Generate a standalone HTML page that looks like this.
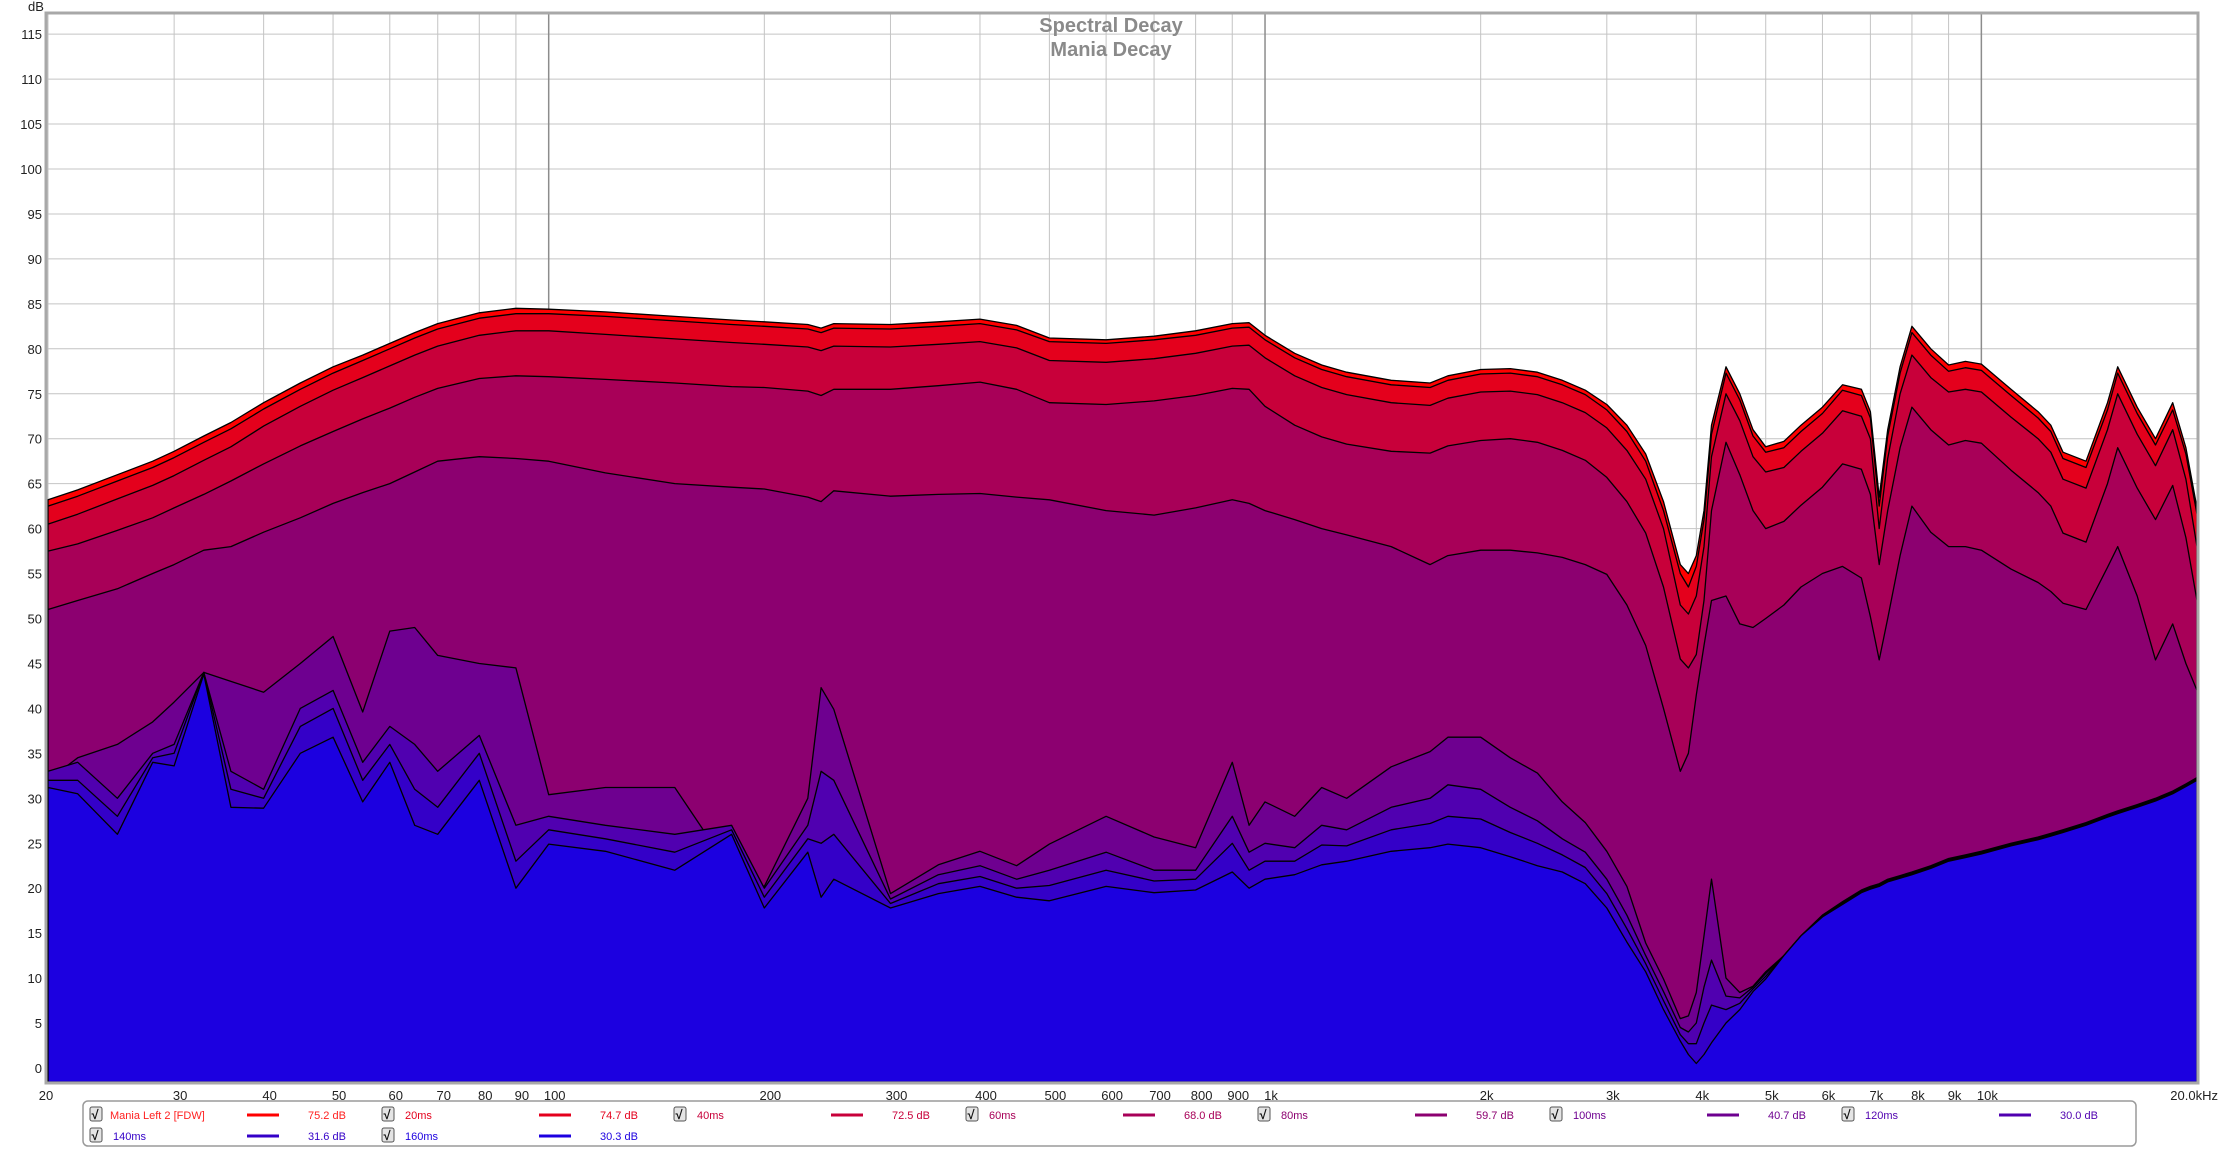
<!DOCTYPE html>
<html><head><meta charset="utf-8"><style>
html,body{margin:0;padding:0;background:#fff;width:2220px;height:1150px;overflow:hidden}
svg{display:block;font-family:"Liberation Sans",sans-serif}
</style></head><body>
<svg id="chart" width="2220" height="1150" viewBox="0 0 2220 1150" xmlns="http://www.w3.org/2000/svg">
<rect x="0" y="0" width="2220" height="1150" fill="#fff"/>
<g id="grid"></g>
<g id="series"></g>
<rect x="46" y="13" width="2152" height="1070" fill="none" stroke="#a8a8a8" stroke-width="3"/>
<text x="1111" y="32" text-anchor="middle" font-size="20" font-weight="bold" fill="#8a8a8a">Spectral Decay</text>
<text x="1111" y="56" text-anchor="middle" font-size="20" font-weight="bold" fill="#8a8a8a">Mania Decay</text>
<text x="36" y="11" text-anchor="middle" font-size="13" fill="#222">dB</text>
<g id="yticks"></g><g id="xticks"></g>
<g id="legend"></g>
</svg>
<script>
const freqs=[20,22,25,28,30,33,36,40,45,50,55,60,65,70,80,90,100,120,150,180,200,230,240,250,300,350,400,450,500,600,700,800,900,950,1000,1100,1200,1300,1500,1700,1800,2000,2200,2400,2600,2800,3000,3200,3400,3600,3800,3900,4000,4100,4200,4400,4600,4800,5000,5300,5600,6000,6400,6800,7000,7200,7400,7700,8000,8500,9000,9500,10000,11000,12000,12500,13000,14000,15000,15500,16500,17500,18500,19300,20000];
const s0ms=[63.2,64.3,66,67.5,68.6,70.3,71.8,74,76.2,78,79.3,80.6,81.8,82.8,84,84.5,84.4,84.1,83.6,83.2,83,82.7,82.3,82.8,82.7,83,83.3,82.6,81.2,81,81.4,82,82.8,82.9,81.5,79.5,78.2,77.4,76.5,76.2,77,77.7,77.8,77.4,76.5,75.4,73.8,71.5,68.3,63,56,55,57,62,71.5,78,75,71,69.1,69.7,71.5,73.5,76,75.5,73,63.5,71,78,82.5,80,78.2,78.6,78.3,75.5,73,71.5,68.5,67.5,74,78,73.5,70,74,69,62.3];
const s20ms=[62.5,63.6,65.3,66.8,67.9,69.6,71.1,73.3,75.5,77.3,78.7,80,81.2,82.2,83.4,83.9,83.9,83.6,83.1,82.7,82.5,82.2,81.8,82.3,82.2,82.5,82.8,82.1,80.8,80.6,81,81.5,82.3,82.4,81,79,77.7,76.9,76,75.7,76.5,77.2,77.3,76.9,76,74.9,73.2,70.8,67.5,62,55,53.5,55.8,61,70.5,77.3,74.3,70.3,68.5,69,70.8,72.8,75.4,74.8,72.3,62.5,70.3,77.3,81.8,79.3,77.5,77.9,77.6,74.8,72.3,70.8,67.8,66.8,73.2,77.3,72.8,69.3,73.2,68.3,61.6];
const s40ms=[60.5,61.6,63.3,64.8,65.9,67.6,69.1,71.4,73.6,75.4,76.8,78.1,79.3,80.3,81.5,82,82,81.6,81.1,80.7,80.5,80.2,79.8,80.3,80.2,80.5,80.8,80.1,78.7,78.5,78.9,79.5,80.3,80.4,79,77,75.7,74.9,74,73.7,74.5,75.2,75.3,74.9,74,72.9,71.2,68.7,65.5,60,51.5,50.5,52.5,58,68,75,72,68,66.3,66.8,68.6,70.6,73.1,72.5,70,60,67.8,75,79.3,76.8,75.2,75.5,75.2,72.4,70,68.5,65.5,64.5,71,75,70.5,67,71,65.5,58];
const s60ms=[57.5,58.3,59.8,61.2,62.3,63.8,65.3,67.2,69.2,70.8,72.2,73.4,74.6,75.6,76.7,77,76.9,76.6,76.2,75.8,75.7,75.3,74.8,75.5,75.5,75.9,76.3,75.5,74,73.8,74.2,74.8,75.6,75.5,73.6,71.5,70.2,69.4,68.6,68.4,69.2,69.8,70,69.6,68.7,67.6,65.7,63,59.5,53.5,45.5,44.5,46,52,62,69.6,66,62,60,60.8,62.6,64.6,67.2,66.6,63.8,56,62,69,73.5,71,69.3,69.8,69.5,66.5,64,62.5,59.5,58.5,65,69,64.5,61,64.8,59,52];
const s80ms=[51,52,53.3,55,56,57.6,58,59.6,61.2,62.8,64,65,66.3,67.5,68,67.8,67.5,66.2,65,64.6,64.4,63.5,63,64.2,63.6,63.8,63.9,63.5,63.2,62,61.5,62.3,63.2,62.8,62,61,60,59.3,58,56,57,57.6,57.6,57.3,56.8,56,54.9,51.5,47,40,33,35,41.5,47,52,52.5,49.4,49,50,51.5,53.5,55,55.8,54.5,50.2,45.4,50,57,62.5,59.6,58,58,57.6,55.5,54,53,51.7,51,55.7,58,52.5,45.4,49.4,45,42];
const s100ms=[32,34.5,36,38.5,40.7,44,43,41.8,45,48,39.6,48.6,49,45.9,45,44.5,30.4,31.2,31.2,21.8,20.2,30,42.3,39.9,19.4,22.6,24.1,22.5,24.9,28,25.7,24.5,34,27,29.6,28,31.2,30,33.5,35.2,36.8,36.8,34.5,32.8,29.6,27.3,24.1,20.2,13.9,9.9,5.5,5.8,8.4,14.7,21,10,8.4,9.1,10.7,12.5,14.7,17,18.5,19.8,20.2,20.5,21,21.4,21.8,22.5,23.3,23.7,24.1,25,25.7,26.1,26.5,27.3,28.2,28.6,29.3,30,30.8,31.6,32.3];
const s120ms=[33,34,30,35,36,44,33,31,40,42,34,38,36,33,37,27,28,27,26,27,20,27,33,32,18.8,21.5,22.5,21,22,24,22,22,28,24,25,24.5,27,26.5,29,30,31.5,31,29,27.5,25.5,24,21,17,12.5,8.5,4.5,4,5,9,12,8,7.8,9,10.5,12.5,14.7,17,18.4,19.7,20.1,20.4,20.9,21.3,21.7,22.4,23.2,23.6,24,24.9,25.6,26,26.4,27.2,28.1,28.5,29.2,29.9,30.7,31.5,32.2];
const s140ms=[32,32,28,34.5,35,44,31,30,38,40,32,36,31,29,35,23,26.5,25.5,24,26.5,19,25.5,25,26,18.3,20.5,21.3,20,20.3,22,20.8,21,25,22,23,23,24.8,24.7,26.5,27.2,28,27.7,26.2,25,23.7,22.3,19.4,15.5,11.6,7.5,3.7,2.7,2.7,5,7,6.5,7.2,8.8,10.2,12.5,14.7,16.9,18.3,19.6,20,20.3,20.8,21.2,21.6,22.3,23.1,23.5,23.9,24.8,25.5,25.9,26.3,27.1,28,28.4,29.1,29.8,30.6,31.4,32.1];
const s160ms=[31.2,30.5,26,34,33.6,43.8,29,28.9,35,36.8,29.6,34,27,26,32,20,24.9,24.1,22,26,17.8,24,19,21,17.8,19.4,20.2,19,18.6,20.2,19.5,19.8,21.8,20,21,21.5,22.6,23,24.1,24.5,24.9,24.5,23.5,22.5,21.8,20.5,17.8,14,10.7,6.5,3,1.5,0.5,1.5,2.8,5,6.5,8.5,9.9,12.5,14.7,16.8,18.2,19.5,19.9,20.2,20.7,21.1,21.5,22.2,23,23.4,23.8,24.7,25.4,25.8,26.2,27,27.9,28.3,29,29.7,30.5,31.3,32];
const seriesNames=["0ms","20ms","40ms","60ms","80ms","100ms","120ms","140ms","160ms"];
const seriesValues=[s0ms,s20ms,s40ms,s60ms,s80ms,s100ms,s120ms,s140ms,s160ms];
const fillColors=["#ff0000","#e4001c","#c8003a","#a80058","#8c0070","#6e0090","#5000b0","#3400c8","#1c00e0"];
const legendLabels=["Mania Left 2 [FDW]","20ms","40ms","60ms","80ms","100ms","120ms","140ms","160ms"];
const legendValues=["75.2 dB","74.7 dB","72.5 dB","68.0 dB","59.7 dB","40.7 dB","30.0 dB","31.6 dB","30.3 dB"];
const yTicks=[0,5,10,15,20,25,30,35,40,45,50,55,60,65,70,75,80,85,90,95,100,105,110,115];
const xGrid=[20,30,40,50,60,70,80,90,100,200,300,400,500,600,700,800,900,1000,2000,3000,4000,5000,6000,7000,8000,9000,10000,20000];
const xLabels=["20","30","40","50","60","70","80","90","100","200","300","400","500","600","700","800","900","1k","2k","3k","4k","5k","6k","7k","8k","9k","10k","20.0kHz"];

const NS="http://www.w3.org/2000/svg";
const L=48,R=2197,T=14,B=1082;
function xs(f){return L+(R-L)*Math.log10(f/20)/3;}
function ys(d){return 1068-8.99*d;}
function mk(tag,attrs,parent){const e=document.createElementNS(NS,tag);for(const k in attrs)e.setAttribute(k,attrs[k]);parent.appendChild(e);return e;}
const grid=document.getElementById('grid');
yTicks.forEach(v=>{
  const l=mk('line',{x1:L,x2:R,y1:ys(v),y2:ys(v),stroke:'#c4c4c4','stroke-width':1},grid);
  
  
  const t=mk('text',{x:42,y:ys(v)+5,'text-anchor':'end','font-size':13,fill:'#222'},document.getElementById('yticks'));
  t.textContent=v;
  
  
});
xGrid.forEach((f,i)=>{
  const dark=(f===100||f===1000||f===10000);
  const l=mk('line',{x1:xs(f),x2:xs(f),y1:T,y2:B,stroke:dark?'#8c8c8c':'#c4c4c4','stroke-width':dark?1.5:1},grid);
  
  
  const last=i===xGrid.length-1;
  const t=mk('text',{x:last?2218:xs(f)+(i===0?-2:6),y:1100,'text-anchor':last?'end':'middle','font-size':13,fill:'#222'},document.getElementById('xticks'));
  t.textContent=xLabels[i];
  
  
});
const sg=document.getElementById('series');
seriesValues.forEach((vals,si)=>{
  let d='M'+xs(freqs[0]).toFixed(1)+','+B;
  vals.forEach((v,i)=>{d+=' L'+xs(freqs[i]).toFixed(1)+','+ys(v).toFixed(1);});
  d+=' L'+xs(freqs[freqs.length-1]).toFixed(1)+','+B+' Z';
  const p=mk('path',{d:d,fill:fillColors[si],stroke:'#000','stroke-width':1.3,'stroke-linejoin':'round'},sg);
  
  
});
const lg=document.getElementById('legend');
const box=mk('rect',{x:83,y:1101,width:2053,height:45,rx:5,fill:'#fff',stroke:'#9a9a9a','stroke-width':1.5},lg);


legendLabels.forEach((lab,i)=>{
  const col=i%7,row=Math.floor(i/7);
  const x0=90+292*col,yc=row?1136:1115;
  const g=mk('g',{},lg);
  
  
  const cb=mk('rect',{x:x0,y:yc-8,width:12,height:14,rx:2,fill:'#e4e4e4',stroke:'#555','stroke-width':1},g);
  
  
  const ck=mk('text',{x:x0+1.5,y:yc+4,'font-size':13,'font-weight':'bold',fill:'#111'},g);
  ck.textContent='√';
  const c=i===0?'#ff2020':fillColors[i];
  const tl=mk('text',{x:x0+(i===0?20:23),y:yc+4,'font-size':11,fill:c},g);
  tl.textContent=lab;
  
  
  const ln=mk('line',{x1:x0+157,x2:x0+189,y1:yc,y2:yc,stroke:i===0?'#ff0000':fillColors[i],'stroke-width':3},g);
  
  
  const tv=mk('text',{x:x0+218,y:yc+4,'font-size':11,fill:c},g);
  tv.textContent=legendValues[i];
  
  
});
</script>
</body></html>
